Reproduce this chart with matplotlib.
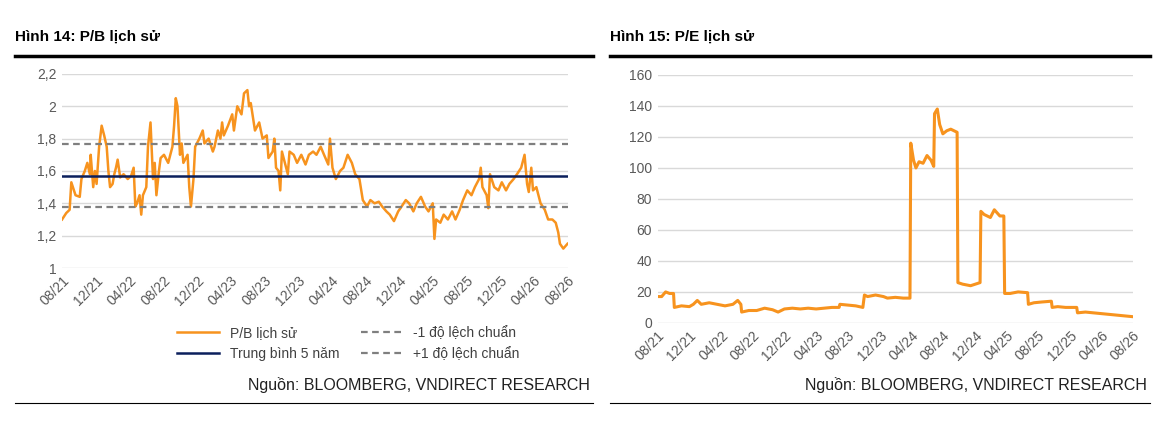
import matplotlib
matplotlib.use("Agg")
import matplotlib.pyplot as plt
import numpy as np

plt.rcParams['font.family'] = ['Liberation Sans', 'DejaVu Sans']

tick_labels = ["08/21","12/21","04/22","08/22","12/22","04/23","08/23","12/23",
               "04/24","08/24","12/24","04/25","08/25","12/25","04/26","08/26"]

pb_months = [0,0.5,0.9,1.1,1.6,2.1,2.3,2.7,3.0,3.3,3.4,3.7,3.9,4.1,4.4,4.7,5.0,5.3,5.5,5.7,6.0,6.2,6.4,6.6,6.9,7.3,7.8,8.2,8.5,8.7,8.9,9.2,9.4,9.6,10.0,10.2,10.5,10.8,11.0,11.2,11.5,11.7,12.1,12.6,13.1,13.3,13.5,13.7,14.0,14.2,14.4,14.9,15.1,15.3,15.6,15.8,16.3,16.7,16.9,17.4,17.9,18.1,18.5,18.8,19.0,19.2,19.7,20.2,20.4,20.8,21.3,21.6,22.0,22.2,22.4,22.9,23.4,23.8,24.3,24.5,25.0,25.2,25.4,25.7,25.9,26.1,26.6,26.8,27.0,27.5,27.9,28.4,28.9,29.3,29.8,30.2,30.7,31.1,31.6,31.8,32.1,32.5,33.0,33.4,33.9,34.4,34.8,35.3,35.7,36.2,36.6,37.1,37.6,38.0,38.5,38.9,39.4,39.9,40.3,40.8,41.2,41.7,42.1,42.6,43.1,43.5,44.0,44.2,44.4,44.9,45.3,45.8,46.3,46.7,47.2,47.6,48.1,48.6,49.0,49.5,49.7,49.9,50.4,50.6,50.8,51.3,51.8,52.2,52.7,53.1,53.6,54.0,54.5,54.9,55.2,55.4,55.7,55.9,56.3,56.8,57.3,57.7,58.2,58.6,58.9,59.1,59.5,60]
pb_values = [1.30,1.34,1.36,1.53,1.45,1.44,1.55,1.60,1.65,1.58,1.70,1.50,1.60,1.52,1.75,1.88,1.82,1.75,1.60,1.50,1.52,1.58,1.62,1.67,1.56,1.58,1.55,1.57,1.62,1.38,1.40,1.45,1.33,1.45,1.50,1.75,1.90,1.55,1.65,1.45,1.60,1.68,1.70,1.65,1.75,1.88,2.05,2.00,1.70,1.77,1.65,1.70,1.50,1.38,1.55,1.75,1.80,1.85,1.77,1.80,1.72,1.75,1.85,1.80,1.90,1.82,1.88,1.95,1.85,2.00,1.95,2.08,2.10,2.00,2.02,1.85,1.90,1.80,1.82,1.68,1.72,1.80,1.62,1.60,1.48,1.72,1.62,1.58,1.72,1.70,1.65,1.70,1.64,1.70,1.72,1.70,1.75,1.70,1.64,1.80,1.62,1.55,1.60,1.62,1.70,1.65,1.58,1.55,1.42,1.38,1.42,1.40,1.41,1.38,1.35,1.33,1.29,1.35,1.38,1.42,1.40,1.35,1.40,1.44,1.38,1.35,1.40,1.18,1.30,1.28,1.33,1.30,1.35,1.30,1.36,1.42,1.48,1.45,1.50,1.55,1.62,1.50,1.45,1.37,1.58,1.50,1.48,1.53,1.48,1.52,1.55,1.58,1.62,1.70,1.52,1.47,1.62,1.48,1.50,1.40,1.36,1.30,1.30,1.28,1.22,1.15,1.12,1.15]
pb_mean = 1.57
pb_minus1 = 1.375
pb_plus1 = 1.765

pe_months = [0,0.5,1.0,1.5,2.0,2.1,3,4,4.5,5,5.5,6.5,7.5,8.5,9.5,10.1,10.5,10.6,11.5,12.5,
             13.5,14.5,15.2,16,17,18,19,20,21,22,22.9,23,24,25,25.9,26.1,26.5,27.5,28.5,29,
             30,31,31.85,31.95,32.3,32.6,33,33.5,34,34.5,34.85,34.95,35.3,35.6,36,36.5,37,37.8,37.9,38.5,
             39.5,40.7,40.8,41.2,42,42.5,43.2,43.7,43.8,44.5,45.5,46.7,46.8,47.5,48.5,49.7,49.8,50.5,51.5,52.9,
             53,54,55,56,57,58,59,60]
pe_values = [17,17,20,19,19,10,11,10.5,12,14.5,12,13,12,11,12,14.5,12,7,8,8,
             9.5,8.5,7,9,9.5,9,9.5,9,9.5,10,10,12,11.5,11,10,18,17,18,17,16,
             16.5,16,16,116,105,100,104,103,108,105,101,135,138,128,122,124,125,123,26,25,
             24,26,72,70,68,73,69,69,19,19,20,19.5,12,13,13.5,14,10,10.5,10,10,
             6.5,7,6.5,6,5.5,5,4.5,4]

orange = "#F7931E"
navy = "#0B1F5C"
grey = "#7F7F7F"
gridc = "#D9D9D9"
tickc = "#595959"

fig = plt.figure(figsize=(11.62, 4.21), dpi=100)

def style(ax):
    ax.set_xlim(0, 60)
    ax.set_xticks(np.arange(0, 61, 4))
    ax.set_xticklabels(tick_labels, rotation=45, ha="right", rotation_mode="anchor")
    for s in ax.spines.values():
        s.set_visible(False)
    ax.grid(axis="y", color=gridc, linewidth=1)
    ax.set_axisbelow(True)
    ax.tick_params(length=0, labelsize=10, colors=tickc, pad=4)

ax1 = fig.add_axes([0.0534, 0.3634, 0.435, 0.461])
l1, = ax1.plot(pb_months, pb_values, color=orange, lw=1.8, label="P/B lịch sử")
l2 = ax1.axhline(pb_mean, color=navy, lw=1.8, label="Trung bình 5 năm")
l3 = ax1.axhline(pb_minus1, color=grey, lw=1.6, ls=(0, (3, 2)), label="-1 độ lệch chuẩn")
l4 = ax1.axhline(pb_plus1, color=grey, lw=1.6, ls=(0, (3, 2)), label="+1 độ lệch chuẩn")
ax1.set_ylim(1, 2.2)
ax1.set_yticks([1, 1.2, 1.4, 1.6, 1.8, 2, 2.2])
ax1.set_yticklabels(["1", "1,2", "1,4", "1,6", "1,8", "2", "2,2"])
style(ax1)
fig.legend(handles=[l1, l2, l3, l4], loc="center", bbox_to_anchor=(0.3, 0.185),
           ncol=2, frameon=False, fontsize=10, columnspacing=1.5, handlelength=3,
           labelcolor="#404040")

ax2 = fig.add_axes([0.566, 0.233, 0.409, 0.589])
ax2.plot(pe_months, pe_values, color=orange, lw=2.2)
ax2.set_ylim(0, 160)
ax2.set_yticks(range(0, 161, 20))
style(ax2)

fig.text(15/1162, 1-37/421, "Hình 14: P/B lịch sử", fontsize=11, fontweight="bold", va="center")
fig.text(610/1162, 1-37/421, "Hình 15: P/E lịch sử", fontsize=11, fontweight="bold", va="center")
for x0, x1 in [(15, 593), (610, 1150)]:
    fig.add_artist(plt.Line2D([x0/1162, x1/1162], [1-56/421]*2, color="black", lw=2.5))
    fig.add_artist(plt.Line2D([x0/1162, x1/1162], [1-403/421]*2, color="black", lw=0.8))
    fig.text((x1-3)/1162, 1-385/421, "Nguồn: BLOOMBERG, VNDIRECT RESEARCH", fontsize=11.5,
             ha="right", va="center", color="#202020")

fig.savefig("out.png", dpi=100)
